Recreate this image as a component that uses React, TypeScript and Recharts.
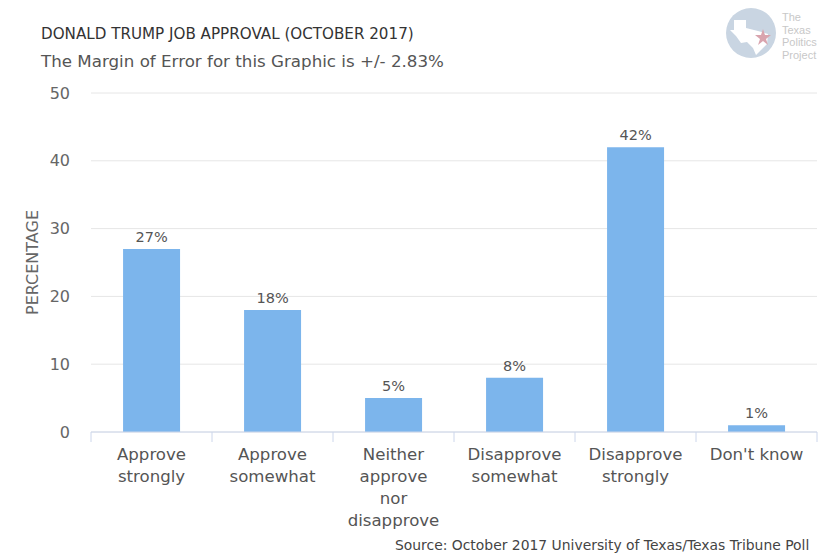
import React from "react";
import { BarChart, Bar, XAxis, YAxis, CartesianGrid, LabelList } from "recharts";

const categories = [
  "Approve strongly",
  "Approve somewhat",
  "Neither approve nor disapprove",
  "Disapprove somewhat",
  "Disapprove strongly",
  "Don't know",
];
const categoryLines: string[][] = [
  ["Approve", "strongly"],
  ["Approve", "somewhat"],
  ["Neither", "approve", "nor", "disapprove"],
  ["Disapprove", "somewhat"],
  ["Disapprove", "strongly"],
  ["Don't know"],
];
const values = [27, 18, 5, 8, 42, 1];
const yTicks = [0, 10, 20, 30, 40, 50];

const title = "DONALD TRUMP JOB APPROVAL (OCTOBER 2017)";
const subtitle = "The Margin of Error for this Graphic is +/- 2.83%";
const source = "Source: October 2017 University of Texas/Texas Tribune Poll";
const yLabel = "PERCENTAGE";
const logoLines = ["The", "Texas", "Politics", "Project"];

const data = categories.map((name, i) => ({ name, value: values[i], lines: categoryLines[i] }));

const FONT = "'DejaVu Sans', sans-serif";

const XTick = (props: any) => {
  const { x, y, index, width, visibleTicksCount } = props;
  const step = width && visibleTicksCount ? width / visibleTicksCount : 121;
  const lines: string[] = categoryLines[index] || [];
  const isLast = index === categories.length - 1;
  return (
    <g>
      <line x1={x - step / 2} x2={x - step / 2} y1={y} y2={y + 10} stroke="#ccd6eb" />
      {isLast && <line x1={x + step / 2} x2={x + step / 2} y1={y} y2={y + 10} stroke="#ccd6eb" />}
      <text x={x} y={y} textAnchor="middle" fill="#555" fontSize={16.6} fontFamily={FONT}>
        {lines.map((l, i) => (
          <tspan key={i} x={x} y={y + 28 + i * 22}>
            {l}
          </tspan>
        ))}
      </text>
    </g>
  );
};

const Logo = () => (
  <svg width={110} height={70} style={{ position: "absolute", left: 720, top: 0 }}>
    <circle cx={31} cy={33} r={25} fill="#c9d5e2" />
    <path
      d="M14 20 L26 20 L26 28 L38 31 L48 34 L47 44 L41 50 L36 55 L33 48 L27 42 L21 43 L16 36 L10 30 L14 30 Z"
      fill="#ffffff"
    />
    <polygon
      points="43,29 45,35 51,35 46,39 48,45 43,41 38,45 40,39 35,35 41,35"
      fill="#d9a4ae"
    />
    {logoLines.map((l, i) => (
      <text key={i} x={62} y={21 + i * 12.5} fontSize={11} fill="#c8c8c8" fontFamily="'Liberation Sans', sans-serif">
        {l}
      </text>
    ))}
  </svg>
);

export default function App() {
  return (
    <div style={{ position: "absolute", left: 0, top: 0, width: 830, height: 553, background: "#fff", overflow: "hidden", fontFamily: FONT }}>
      <div style={{ position: "absolute", left: 41, top: 25, fontSize: 15.15, color: "#333", whiteSpace: "nowrap" }}>{title}</div>
      <div style={{ position: "absolute", left: 41, top: 51, fontSize: 16.7, color: "#555", whiteSpace: "nowrap" }}>{subtitle}</div>
      <Logo />
      <BarChart
        width={830}
        height={553}
        data={data}
        margin={{ top: 93, right: 13, bottom: 0, left: 31 }}
        barCategoryGap="26.5%"
      >
        <CartesianGrid vertical={false} stroke="#e6e6e6" />
        <XAxis
          dataKey="name"
          interval={0}
          tickLine={false}
          tickSize={0}
          tickMargin={0}
          axisLine={{ stroke: "#ccd6eb" }}
          tick={<XTick />}
          height={121}
        />
        <YAxis
          domain={[0, 50]}
          ticks={yTicks}
          axisLine={false}
          tickLine={false}
          tickMargin={15}
          width={60}
          tick={{ fill: "#666", fontSize: 16, fontFamily: FONT }}
          label={{ value: yLabel, angle: -90, position: "insideLeft", offset: 1, fill: "#666", fontSize: 16, fontFamily: FONT, style: { textAnchor: "middle" } }}
        />
        <Bar dataKey="value" fill="#7cb5ec" isAnimationActive={false}>
          <LabelList
            dataKey="value"
            position="top"
            offset={7}
            formatter={(v: any) => `${v}%`}
            fill="#555"
            fontSize={14.5}
            fontFamily={FONT}
          />
        </Bar>
      </BarChart>
      <div style={{ position: "absolute", left: 395, top: 537, fontSize: 13.9, color: "#444", whiteSpace: "nowrap" }}>{source}</div>
    </div>
  );
}
